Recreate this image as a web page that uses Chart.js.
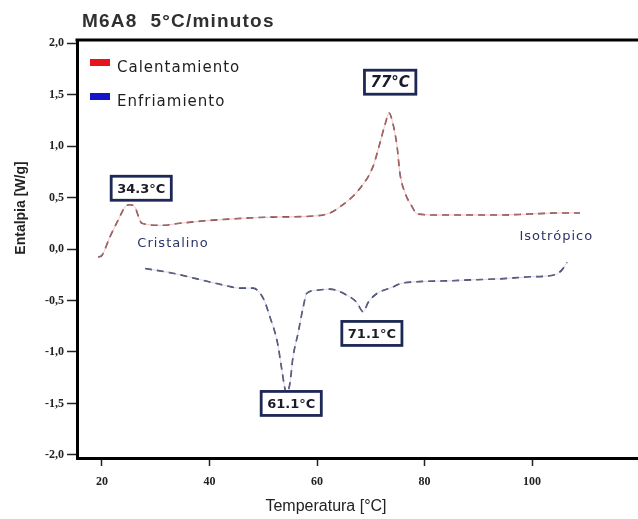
<!DOCTYPE html>
<html>
<head>
<meta charset="utf-8">
<script src="https://cdn.jsdelivr.net/npm/chart.js@4.4.1/dist/chart.umd.min.js"></script>
<style>
  html, body { margin: 0; padding: 0; background: #ffffff; }
  #wrap { width: 638px; height: 519px; position: relative; }
</style>
</head>
<body>
<div id="wrap"><canvas id="c" width="638" height="519"></canvas></div>
<script>
// ---- Data ----
const chartTitle = "M6A8  5°C/minutos";
const seriesNames = ["Calentamiento", "Enfriamiento"];
const xTicks = [20, 40, 60, 80, 100];
const yTicks = [-2.0, -1.5, -1.0, -0.5, 0.0, 0.5, 1.0, 1.5, 2.0];

// Calentamiento (heating)
const heatT = [19.3, 20.0, 21.5, 23.0, 24.3, 25.2, 26.1, 26.9, 27.4, 31.2, 34.5, 40.7, 51.8, 59.3, 62.4, 64.3, 68.0, 70.4, 71.7, 72.7, 73.4, 74.1, 74.9, 75.4, 76.4, 77.7, 78.6, 82.9, 88.5, 94.0, 99.6, 105.2, 108.9];
const heatH = [-0.08, -0.06, 0.12, 0.28, 0.41, 0.43, 0.41, 0.30, 0.25, 0.23, 0.25, 0.28, 0.31, 0.32, 0.35, 0.41, 0.59, 0.80, 1.03, 1.22, 1.32, 1.22, 0.99, 0.74, 0.54, 0.41, 0.34, 0.33, 0.33, 0.33, 0.34, 0.35, 0.35];

// Enfriamiento (cooling)
const coolT = [28.0, 32.7, 37.7, 42.5, 45.7, 48.1, 50.0, 51.3, 52.6, 53.5, 54.0, 54.4, 55.0, 55.5, 56.5, 57.4, 58.1, 60.0, 62.4, 65.6, 67.4, 68.6, 69.5, 71.2, 73.6, 76.0, 84.2, 88.5, 94.0, 99.6, 104.3, 105.6, 106.5];
const coolH = [-0.19, -0.23, -0.29, -0.35, -0.38, -0.38, -0.48, -0.67, -0.90, -1.19, -1.35, -1.40, -1.29, -1.06, -0.81, -0.57, -0.43, -0.40, -0.39, -0.45, -0.52, -0.61, -0.52, -0.43, -0.38, -0.33, -0.31, -0.30, -0.29, -0.27, -0.25, -0.20, -0.13];

// Annotation boxes: text and anchor in data units
const boxTexts = ["34.3°C", "77°C", "61.1°C", "71.1°C"];
const boxT = [27.3, 73.6, 55.2, 70.2];
const boxH = [0.59, 1.62, -1.50, -0.82];

// Plain text labels
const noteTexts = ["Cristalino", "Isotrópico"];
const noteT = [33.2, 104.5];
const noteH = [0.05, 0.12];

const xMin = 15.35, xMax = 119.7, yMin = -2.03, yMax = 2.03;

const toPts = (xs, ys) => xs.map((x, i) => ({ x: x, y: ys[i] }));

const overlay = {
  id: 'overlay',
  afterDraw(chart) {
    const ctx = chart.ctx;
    const a = chart.chartArea;
    const xs = chart.scales.x, ys = chart.scales.y;
    ctx.save();
    // top frame line
    ctx.strokeStyle = '#000';
    ctx.lineWidth = 3;
    ctx.beginPath();
    ctx.moveTo(a.left - 1.5, a.top);
    ctx.lineTo(a.right, a.top);
    ctx.stroke();

    // Title
    ctx.fillStyle = '#303030';
    ctx.font = 'bold 19px "Liberation Sans"';
    ctx.letterSpacing = '1.2px';
    ctx.textAlign = 'left';
    ctx.textBaseline = 'middle';
    ctx.fillText(chartTitle, 82, 22);

    // Legend
    const legColors = ['#e8141c', '#1414c8'];
    const legY = [66, 100];
    ctx.font = '15px "DejaVu Sans"';
    ctx.letterSpacing = '1px';
    for (let i = 0; i < seriesNames.length; i++) {
      ctx.fillStyle = legColors[i];
      ctx.fillRect(90, legY[i] - 7, 20, 7);
      ctx.fillStyle = '#1e1e1e';
      ctx.fillText(seriesNames[i], 117, legY[i] + 2);
    }
    ctx.letterSpacing = '0px';

    // Axis titles
    ctx.fillStyle = '#222';
    ctx.font = 'bold 14px "Liberation Sans"';
    ctx.textAlign = 'center';
    ctx.save();
    ctx.translate(21, 208);
    ctx.rotate(-Math.PI / 2);
    ctx.fillText('Entalpia [W/g]', 0, 0);
    ctx.restore();
    ctx.font = '16px "Liberation Sans"';
    ctx.fillText('Temperatura [°C]', 326, 507);

    // Notes
    ctx.fillStyle = '#2b3468';
    ctx.font = '13px "DejaVu Sans"';
    ctx.letterSpacing = '1px';
    for (let i = 0; i < noteTexts.length; i++) {
      ctx.fillText(noteTexts[i], xs.getPixelForValue(noteT[i]), ys.getPixelForValue(noteH[i]));
    }
    ctx.letterSpacing = '0px';

    // Boxes
    const boxFont = ['bold 13px "DejaVu Sans"', 'bold italic 15px "DejaVu Sans"', 'bold 13px "DejaVu Sans"', 'bold 13px "DejaVu Sans"'];
    for (let i = 0; i < boxTexts.length; i++) {
      ctx.font = boxFont[i];
      const cx = xs.getPixelForValue(boxT[i]);
      const cy = ys.getPixelForValue(boxH[i]);
      const w = ctx.measureText(boxTexts[i]).width + 12;
      const h = 24;
      ctx.fillStyle = '#fff';
      ctx.fillRect(cx - w / 2, cy - h / 2, w, h);
      ctx.strokeStyle = '#1e2856';
      ctx.lineWidth = 2.8;
      ctx.strokeRect(cx - w / 2, cy - h / 2, w, h);
      ctx.fillStyle = '#1a1a2a';
      ctx.fillText(boxTexts[i], cx, cy + 1);
    }
    ctx.restore();
  }
};

const tickFont = { family: '"Liberation Serif"', size: 12, weight: 'bold' };

new Chart(document.getElementById('c'), {
  type: 'line',
  data: {
    datasets: [
      { label: seriesNames[0] + ' base', data: toPts(heatT, heatH), borderColor: 'rgba(236,150,150,0.55)', borderWidth: 1, pointRadius: 0, cubicInterpolationMode: 'monotone', fill: false },
      { label: seriesNames[0], data: toPts(heatT, heatH), borderColor: '#6a3a3e', borderWidth: 1.6, borderDash: [7, 5], pointRadius: 0, cubicInterpolationMode: 'monotone', fill: false },
      { label: seriesNames[1] + ' base', data: toPts(coolT, coolH), borderColor: 'rgba(170,175,215,0.45)', borderWidth: 1, pointRadius: 0, cubicInterpolationMode: 'monotone', fill: false },
      { label: seriesNames[1], data: toPts(coolT, coolH), borderColor: '#2c3050', borderWidth: 1.6, borderDash: [7, 5], pointRadius: 0, cubicInterpolationMode: 'monotone', fill: false }
    ]
  },
  options: {
    responsive: false,
    animation: false,
    layout: { padding: { top: 40, right: 0, left: 0, bottom: 0 } },
    plugins: { legend: { display: false }, tooltip: { enabled: false }, title: { display: false } },
    scales: {
      x: {
        type: 'linear', min: xMin, max: xMax,
        afterBuildTicks: s => { s.ticks = xTicks.map(v => ({ value: v })); },
        afterFit: s => { s.height = 61; },
        ticks: { font: tickFont, color: '#222', padding: 9, callback: v => String(v) },
        grid: { drawOnChartArea: false, drawTicks: true, tickLength: 8, color: '#222', tickWidth: 1.5 },
        border: { display: true, color: '#000', width: 3 }
      },
      y: {
        type: 'linear', min: yMin, max: yMax,
        afterBuildTicks: s => { s.ticks = yTicks.map(v => ({ value: v })); },
        afterFit: s => { s.width = 77; },
        ticks: { font: tickFont, color: '#222', padding: 3, callback: v => v.toFixed(1).replace('.', ',') },
        grid: { drawOnChartArea: false, drawTicks: true, tickLength: 10, color: '#222', tickWidth: 1.5 },
        border: { display: true, color: '#000', width: 3 }
      }
    }
  },
  plugins: [overlay]
});
</script>
</body>
</html>
